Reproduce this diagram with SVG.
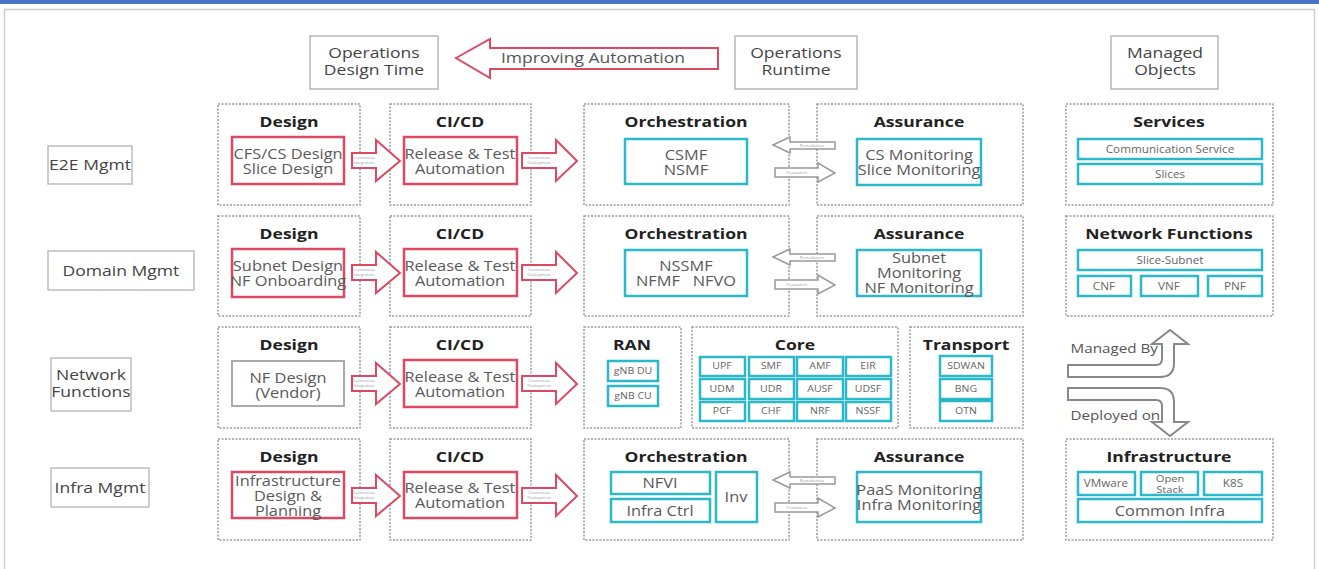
<svg xmlns="http://www.w3.org/2000/svg" width="1319" height="569" viewBox="0 0 1319 569">
<style>
  text { font-family: "Open Sans", "Noto Sans", "Liberation Sans", sans-serif; text-anchor: middle;
         transform-box: fill-box; transform-origin: center; transform: scaleX(1.17); }
  .hdr { fill: #fff; stroke: #b8b8b8; stroke-width: 1.5; }
  .hdrt { font-size: 15px; fill: #444; }
  .lane { fill: #fff; stroke: #bdbdbd; stroke-width: 1.5; }
  .lanet { font-size: 15px; fill: #444; }
  .blk { fill: #fff; stroke: #9a9a9a; stroke-width: 1.5; stroke-dasharray: 2 1.5; }
  .ttl { font-size: 15px; font-weight: bold; fill: #222; }
  .red { fill: #fff; stroke: #dc4a62; stroke-width: 2.5; }
  .teal { fill: #fff; stroke: #2bb8c9; stroke-width: 2.5; }
  .gbox { fill: #fff; stroke: #aaa; stroke-width: 2; }
  .in { font-size: 14px; fill: #5a5a5a; }
  .sm { font-size: 10px; fill: #666; }
  .xs { font-size: 9px; fill: #666; }
  .rarr { fill: #fff; stroke: #dc4a62; stroke-width: 2; stroke-linejoin: miter; }
  .garr { fill: #fff; stroke: #999; stroke-width: 1.5; }
  .tiny { font-size: 3.5px; fill: #999; }
  .mb { fill: #fff; stroke: #888; stroke-width: 2; }
  .mbt { font-size: 13px; fill: #555; text-anchor: start; }
</style>

<!-- page chrome -->
<rect x="0" y="0" width="1319" height="4" fill="#4472c4"/>
<rect x="4.5" y="9.5" width="1310" height="580" fill="#fff" stroke="#cfcfcf" stroke-width="1.5"/>

<!-- column headers -->
<g id="hdr-design-time">
  <rect class="hdr" x="310" y="36" width="128" height="53"/>
  <text class="hdrt" x="374" y="58">Operations</text>
  <text class="hdrt" x="374" y="75">Design Time</text>
</g>
<g id="hdr-improving">
  <polygon class="rarr" points="456,58 490,39 490,48 718,48 718,69 490,69 490,78"/>
  <text class="hdrt" x="593" y="63" style="fill:#555">Improving Automation</text>
</g>
<g id="hdr-runtime">
  <rect class="hdr" x="735" y="36" width="122" height="53"/>
  <text class="hdrt" x="796" y="58">Operations</text>
  <text class="hdrt" x="796" y="75">Runtime</text>
</g>
<g id="hdr-managed">
  <rect class="hdr" x="1111" y="36" width="107" height="53"/>
  <text class="hdrt" x="1165" y="58">Managed</text>
  <text class="hdrt" x="1165" y="75">Objects</text>
</g>

<!-- lane labels -->
<g id="lane-e2e"><rect class="lane" x="48" y="146" width="84" height="38"/><text class="lanet" x="90" y="170">E2E Mgmt</text></g>
<g id="lane-domain"><rect class="lane" x="48" y="251" width="146" height="39"/><text class="lanet" x="121" y="276">Domain Mgmt</text></g>
<g id="lane-nf"><rect class="lane" x="51" y="358" width="80" height="53"/><text class="lanet" x="91" y="380">Network</text><text class="lanet" x="91" y="397">Functions</text></g>
<g id="lane-infra"><rect class="lane" x="51" y="468" width="98" height="39"/><text class="lanet" x="100" y="493">Infra Mgmt</text></g>

<!-- row 1: E2E -->
<g id="e2e-design">
  <rect class="blk" x="218" y="104" width="142" height="101"/>
  <text class="ttl" x="289" y="127">Design</text>
  <rect class="red" x="232" y="137" width="112" height="47"/>
  <text class="in" x="288" y="159">CFS/CS Design</text>
  <text class="in" x="288" y="174">Slice Design</text>
</g>
<g id="e2e-cicd">
  <rect class="blk" x="390" y="104" width="141" height="101"/>
  <text class="ttl" x="460" y="127">CI/CD</text>
  <rect class="red" x="404" y="137" width="113" height="47"/>
  <text class="in" x="460" y="159">Release &amp; Test</text>
  <text class="in" x="460" y="174">Automation</text>
</g>
<g id="e2e-orch">
  <rect class="blk" x="584" y="104" width="205" height="101"/>
  <text class="ttl" x="686" y="127">Orchestration</text>
  <rect class="teal" x="625" y="139" width="122" height="45"/>
  <text class="in" x="686" y="160">CSMF</text>
  <text class="in" x="686" y="175">NSMF</text>
</g>
<g id="e2e-assur">
  <rect class="blk" x="817" y="104" width="206" height="101"/>
  <text class="ttl" x="919" y="127">Assurance</text>
  <rect class="teal" x="857" y="139" width="124" height="46"/>
  <text class="in" x="919" y="160">CS Monitoring</text>
  <text class="in" x="919" y="175">Slice Monitoring</text>
</g>
<g id="mo-services">
  <rect class="blk" x="1066" y="104" width="207" height="101"/>
  <text class="ttl" x="1169" y="127">Services</text>
  <rect class="teal" x="1078" y="139" width="184" height="20"/>
  <text class="sm" x="1170" y="153">Communication Service</text>
  <rect class="teal" x="1078" y="164" width="184" height="20"/>
  <text class="sm" x="1170" y="178">Slices</text>
</g>

<!-- row 2: Domain -->
<g id="dom-design">
  <rect class="blk" x="218" y="216" width="142" height="100"/>
  <text class="ttl" x="289" y="239">Design</text>
  <rect class="red" x="232" y="249" width="112" height="48"/>
  <text class="in" x="288" y="271">Subnet Design</text>
  <text class="in" x="288" y="286">NF Onboarding</text>
</g>
<g id="dom-cicd">
  <rect class="blk" x="390" y="216" width="141" height="100"/>
  <text class="ttl" x="460" y="239">CI/CD</text>
  <rect class="red" x="404" y="249" width="113" height="47"/>
  <text class="in" x="460" y="271">Release &amp; Test</text>
  <text class="in" x="460" y="286">Automation</text>
</g>
<g id="dom-orch">
  <rect class="blk" x="584" y="216" width="205" height="100"/>
  <text class="ttl" x="686" y="239">Orchestration</text>
  <rect class="teal" x="625" y="250" width="122" height="46"/>
  <text class="in" x="686" y="271">NSSMF</text>
  <text class="in" x="686" y="286" xml:space="preserve">NFMF   NFVO</text>
</g>
<g id="dom-assur">
  <rect class="blk" x="817" y="216" width="206" height="100"/>
  <text class="ttl" x="919" y="239">Assurance</text>
  <rect class="teal" x="857" y="250" width="124" height="46"/>
  <text class="in" x="919" y="263">Subnet</text>
  <text class="in" x="919" y="278">Monitoring</text>
  <text class="in" x="919" y="293">NF Monitoring</text>
</g>
<g id="mo-nf">
  <rect class="blk" x="1066" y="216" width="207" height="100"/>
  <text class="ttl" x="1169" y="239">Network Functions</text>
  <rect class="teal" x="1078" y="250" width="184" height="20"/>
  <text class="sm" x="1170" y="264">Slice-Subnet</text>
  <rect class="teal" x="1078" y="276" width="53" height="20"/>
  <text class="sm" x="1104" y="290">CNF</text>
  <rect class="teal" x="1141" y="276" width="57" height="20"/>
  <text class="sm" x="1169" y="290">VNF</text>
  <rect class="teal" x="1208" y="276" width="54" height="20"/>
  <text class="sm" x="1235" y="290">PNF</text>
</g>

<!-- row 3: Network Functions -->
<g id="nf-design">
  <rect class="blk" x="218" y="327" width="142" height="101"/>
  <text class="ttl" x="289" y="350">Design</text>
  <rect class="gbox" x="232" y="361" width="112" height="45"/>
  <text class="in" x="288" y="383">NF Design</text>
  <text class="in" x="288" y="398">(Vendor)</text>
</g>
<g id="nf-cicd">
  <rect class="blk" x="390" y="327" width="141" height="101"/>
  <text class="ttl" x="460" y="350">CI/CD</text>
  <rect class="red" x="404" y="360" width="113" height="47"/>
  <text class="in" x="460" y="382">Release &amp; Test</text>
  <text class="in" x="460" y="397">Automation</text>
</g>
<g id="nf-ran">
  <rect class="blk" x="584" y="327" width="97" height="101"/>
  <text class="ttl" x="632" y="350">RAN</text>
  <rect class="teal" x="608" y="361" width="50" height="20"/>
  <text class="xs" x="633" y="374">gNB DU</text>
  <rect class="teal" x="608" y="386" width="50" height="20"/>
  <text class="xs" x="633" y="399">gNB CU</text>
</g>
<g id="nf-core">
  <rect class="blk" x="692" y="327" width="206" height="101"/>
  <text class="ttl" x="795" y="350">Core</text>
  <rect class="teal" x="700" y="357" width="45" height="19"/><text class="xs" x="722" y="369">UPF</text>
  <rect class="teal" x="749" y="357" width="45" height="19"/><text class="xs" x="771" y="369">SMF</text>
  <rect class="teal" x="797" y="357" width="46" height="19"/><text class="xs" x="820" y="369">AMF</text>
  <rect class="teal" x="846" y="357" width="45" height="19"/><text class="xs" x="868" y="369">EIR</text>
  <rect class="teal" x="700" y="379" width="45" height="20"/><text class="xs" x="722" y="392">UDM</text>
  <rect class="teal" x="749" y="379" width="45" height="20"/><text class="xs" x="771" y="392">UDR</text>
  <rect class="teal" x="797" y="379" width="46" height="20"/><text class="xs" x="820" y="392">AUSF</text>
  <rect class="teal" x="846" y="379" width="45" height="20"/><text class="xs" x="868" y="392">UDSF</text>
  <rect class="teal" x="700" y="402" width="45" height="19"/><text class="xs" x="722" y="414">PCF</text>
  <rect class="teal" x="749" y="402" width="45" height="19"/><text class="xs" x="771" y="414">CHF</text>
  <rect class="teal" x="797" y="402" width="46" height="19"/><text class="xs" x="820" y="414">NRF</text>
  <rect class="teal" x="846" y="402" width="45" height="19"/><text class="xs" x="868" y="414">NSSF</text>
</g>
<g id="nf-transport">
  <rect class="blk" x="910" y="327" width="113" height="101"/>
  <text class="ttl" x="966" y="350">Transport</text>
  <rect class="teal" x="940" y="356" width="52" height="20"/><text class="xs" x="966" y="369">SDWAN</text>
  <rect class="teal" x="940" y="379" width="52" height="20"/><text class="xs" x="966" y="392">BNG</text>
  <rect class="teal" x="940" y="401" width="52" height="20"/><text class="xs" x="966" y="414">OTN</text>
</g>

<!-- row 4: Infra -->
<g id="inf-design">
  <rect class="blk" x="218" y="439" width="142" height="101"/>
  <text class="ttl" x="289" y="462">Design</text>
  <rect class="red" x="232" y="472" width="112" height="46"/>
  <text class="in" x="288" y="486">Infrastructure</text>
  <text class="in" x="288" y="501">Design &amp;</text>
  <text class="in" x="288" y="516">Planning</text>
</g>
<g id="inf-cicd">
  <rect class="blk" x="390" y="439" width="141" height="101"/>
  <text class="ttl" x="460" y="462">CI/CD</text>
  <rect class="red" x="404" y="472" width="113" height="46"/>
  <text class="in" x="460" y="493">Release &amp; Test</text>
  <text class="in" x="460" y="508">Automation</text>
</g>
<g id="inf-orch">
  <rect class="blk" x="584" y="439" width="205" height="101"/>
  <text class="ttl" x="686" y="462">Orchestration</text>
  <rect class="teal" x="611" y="472" width="99" height="22"/>
  <text class="in" x="660" y="488">NFVI</text>
  <rect class="teal" x="611" y="499" width="99" height="23"/>
  <text class="in" x="660" y="516">Infra Ctrl</text>
  <rect class="teal" x="716" y="472" width="41" height="50"/>
  <text class="in" x="736" y="502">Inv</text>
</g>
<g id="inf-assur">
  <rect class="blk" x="817" y="439" width="206" height="101"/>
  <text class="ttl" x="919" y="462">Assurance</text>
  <rect class="teal" x="857" y="472" width="124" height="50"/>
  <text class="in" x="919" y="495">PaaS Monitoring</text>
  <text class="in" x="919" y="510">Infra Monitoring</text>
</g>
<g id="mo-infra">
  <rect class="blk" x="1066" y="439" width="207" height="101"/>
  <text class="ttl" x="1169" y="462">Infrastructure</text>
  <rect class="teal" x="1078" y="472" width="57" height="23"/>
  <text class="sm" x="1106" y="487">VMware</text>
  <rect class="teal" x="1141" y="472" width="57" height="23"/>
  <text class="sm" x="1170" y="482" style="font-size:9.5px">Open</text>
  <text class="sm" x="1170" y="493" style="font-size:9.5px">Stack</text>
  <rect class="teal" x="1204" y="472" width="58" height="23"/>
  <text class="sm" x="1233" y="487">K8S</text>
  <rect class="teal" x="1078" y="499" width="184" height="23"/>
  <text class="in" x="1170" y="516">Common Infra</text>
</g>

<!-- connectors -->
<defs>
  <polygon id="ci" class="rarr" points="352,153 376,153 376,140 400,161 376,181 376,168 352,168"/>
  <polygon id="cd" class="rarr" points="522,153 556,153 556,140 577,161 556,181 556,168 522,168"/>
  <polygon id="rem" class="garr" points="773,145 790,137 790,142 835,142 835,149 790,149 790,153"/>
  <polygon id="pop" class="garr" points="775,168 818,168 818,163 835,173 818,182 818,177 775,177"/>
</defs>
<g id="connectors">
  <g id="flow-e2e">
    <use href="#ci"/><text class="tiny" x="364" y="159">Continuous</text><text class="tiny" x="364" y="164">Integration</text>
    <use href="#cd"/><text class="tiny" x="539" y="159">Continuous</text><text class="tiny" x="539" y="164">Deployment</text>
    <use href="#rem"/><text class="tiny" x="812" y="147">Remediation</text>
    <use href="#pop"/><text class="tiny" x="797" y="174">Population</text>
  </g>
  <g id="flow-domain" transform="translate(0,112)">
    <use href="#ci"/><text class="tiny" x="364" y="159">Continuous</text><text class="tiny" x="364" y="164">Integration</text>
    <use href="#cd"/><text class="tiny" x="539" y="159">Continuous</text><text class="tiny" x="539" y="164">Deployment</text>
    <use href="#rem"/><text class="tiny" x="812" y="147">Remediation</text>
    <use href="#pop"/><text class="tiny" x="797" y="174">Population</text>
  </g>
  <g id="flow-nf" transform="translate(0,223)">
    <use href="#ci"/><text class="tiny" x="364" y="159">Continuous</text><text class="tiny" x="364" y="164">Integration</text>
    <use href="#cd"/><text class="tiny" x="539" y="159">Continuous</text><text class="tiny" x="539" y="164">Deployment</text>
  </g>
  <g id="flow-infra" transform="translate(0,335)">
    <use href="#ci"/><text class="tiny" x="364" y="159">Continuous</text><text class="tiny" x="364" y="164">Integration</text>
    <use href="#cd"/><text class="tiny" x="539" y="159">Continuous</text><text class="tiny" x="539" y="164">Deployment</text>
    <use href="#rem"/><text class="tiny" x="812" y="147">Remediation</text>
    <use href="#pop"/><text class="tiny" x="797" y="174">Population</text>
  </g>
  <g id="managed-by">
    <path class="mb" d="M1068,377 L1160,377 Q1174,377 1174,363 L1174,344 L1188,344 L1170,330 L1152,344 L1162,344 L1162,359 Q1162,365 1156,365 L1068,365 Z"/>
    <text class="mbt" x="1077" y="353">Managed By</text>
  </g>
  <g id="deployed-on">
    <path class="mb" d="M1068,388 L1160,388 Q1174,388 1174,402 L1174,422 L1188,422 L1170,436 L1152,422 L1162,422 L1162,406 Q1162,400 1156,400 L1068,400 Z"/>
    <text class="mbt" x="1077" y="420">Deployed on</text>
  </g>
</g>
</svg>
